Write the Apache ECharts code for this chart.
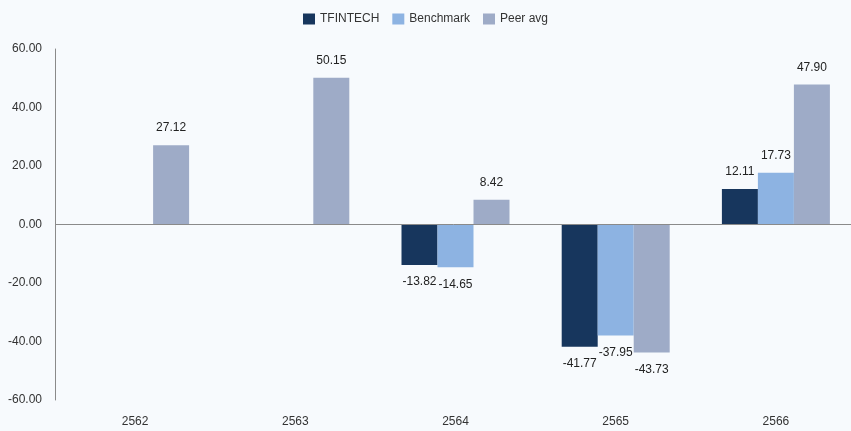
<!DOCTYPE html>
<html>
<head>
<meta charset="utf-8">
<script src="https://cdn.jsdelivr.net/npm/echarts@6/dist/echarts.min.js"></script>
<style>
  html, body { margin: 0; padding: 0; background: #f7fafd; }
  #chart { width: 851px; height: 431px; }
</style>
</head>
<body>
<div id="chart"></div>
<script>
const years = ['2562', '2563', '2564', '2565', '2566']
const tfintech = [null, null, -13.82, -41.77, 12.11]
const benchmark = [null, null, -14.65, -37.95, 17.73]
const peerAvg = [27.12, 50.15, 8.42, -43.73, 47.90]
const yTicks = { min: -60, max: 60, interval: 20 }

const chart = echarts.init(document.getElementById('chart'))

// label above for positive, below for negative
const withLabels = (values) => values.map(v => ({
  value: v,
  label: { position: v < 0 ? 'bottom' : 'top' }
}))

const makeSeries = (name, values, color) => ({
  name,
  type: 'bar',
  barWidth: 36,
  barGap: 0,
  itemStyle: { color },
  label: {
    show: true,
    color: '#222',
    fontSize: 12,
    distance: 11,
    formatter: ({ value }) => value == null ? '' : Number(value).toFixed(2)
  },
  data: withLabels(values)
})

const series = [
  makeSeries('TFINTECH', tfintech, '#17365d'),
  makeSeries('Benchmark', benchmark, '#8db3e2'),
  makeSeries('Peer avg', peerAvg, '#9eabc7')
]
series[0].markLine = {
  silent: true,
  symbol: 'none',
  label: { show: false },
  lineStyle: { color: '#8a8a8a', type: 'solid', width: 1 },
  data: [{ yAxis: 0 }]
}

chart.setOption({
  backgroundColor: '#f7fafd',
  animation: false,
  textStyle: { fontFamily: 'Liberation Sans, Arial, sans-serif' },
  legend: {
    top: 8,
    left: 'center',
    itemWidth: 12,
    itemHeight: 11,
    itemGap: 13,
    icon: 'rect',
    textStyle: { color: '#333', fontSize: 12 }
  },
  grid: {
    left: 55,
    top: 49,
    bottom: 31,
    width: 801,
    containLabel: false,
    outerBoundsMode: 'none'
  },
  xAxis: {
    type: 'category',
    data: years,
    axisLine: { show: false },
    axisTick: { show: false },
    axisLabel: { color: '#333', fontSize: 12, margin: 16 }
  },
  yAxis: {
    type: 'value',
    min: yTicks.min,
    max: yTicks.max,
    interval: yTicks.interval,
    axisLine: { show: true, lineStyle: { color: '#8a8a8a' } },
    axisTick: { show: false },
    splitLine: { show: false },
    axisLabel: {
      color: '#333',
      fontSize: 12,
      margin: 13,
      formatter: (v) => v.toFixed(2)
    }
  },
  series
})
</script>
</body>
</html>
